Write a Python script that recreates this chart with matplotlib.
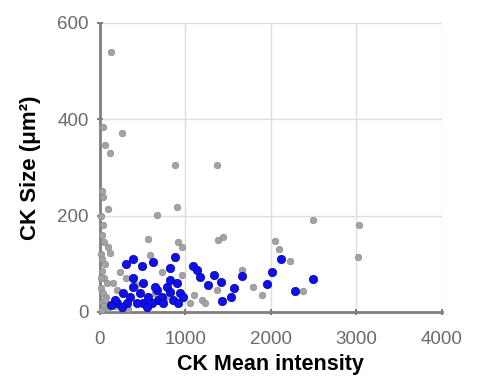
import matplotlib.pyplot as plt

plt.rcParams['font.family'] = ['Liberation Sans', 'DejaVu Sans']

# grey population
grey_x = [130, 255, 120, 60, 35, 40, 95, 20, 880, 1370, 900, 665, 565, 915, 960,
          1380, 1440, 2050, 2100, 2490, 3030, 3020, 2220, 1790, 1895, 2375, 585,
          1660, 1370, 1190, 1230, 1050, 725, 960, 235, 117, 95, 30, 50, 15, 60,
          25, 45, 80, 10, 35, 70, 20, 55, 150, 200, 300, 420, 650, 760, 1100,
          40, 15, 30, 50, 20, 65, 10, 90, 180, 330]
grey_y = [540, 372, 330, 347, 384, 239, 214, 250, 305, 305, 218, 201, 151, 145, 135,
          150, 156, 147, 131, 191, 181, 114, 106, 52, 35, 44, 118,
          87, 46, 25, 19, 19, 83, 77, 83, 122, 135, 160, 145, 120, 100,
          85, 70, 60, 50, 40, 30, 20, 10, 60, 45, 70, 55, 40, 30, 35,
          180, 200, 5, 15, 110, 25, 70, 8, 12, 6]

# blue population
blue_x = [385, 305, 490, 620, 875, 820, 385, 1090, 1130, 1170, 1265, 1330, 1415,
          1570, 1530, 1430, 1660, 2010, 1950, 2120, 2280, 2490,
          195, 270, 350, 470, 505, 565, 665, 680, 780, 820, 900, 935, 970, 725,
          610, 430, 315, 175, 385, 505, 740, 855, 255, 550, 645, 820, 915, 130]
blue_y = [110, 100, 95, 104, 114, 91, 71, 95, 87, 73, 56, 77, 62,
          50, 31, 23, 75, 83, 58, 110, 44, 69,
          19, 39, 31, 39, 19, 31, 46, 25, 52, 66, 60, 39, 31, 31,
          19, 19, 19, 25, 52, 60, 19, 25, 10, 10, 52, 42, 19, 15]

fig = plt.figure(figsize=(4.85, 3.87), dpi=100)
ax = fig.add_axes([0.206, 0.194, 0.705, 0.747])

ax.scatter(grey_x, grey_y, s=22, color='#a3a3a3', edgecolors='#8c8c8c',
           linewidths=0.5, zorder=3, clip_on=False)
ax.scatter(blue_x, blue_y, s=36, color='#1010ee', edgecolors='#0000a0',
           linewidths=0.5, zorder=4, clip_on=False)

ax.set_xlim(0, 4000)
ax.set_ylim(0, 600)
ax.set_xticks([0, 1000, 2000, 3000, 4000])
ax.set_yticks([0, 200, 400, 600])
ax.grid(True, color='#dedede', linewidth=1)
ax.set_axisbelow(True)

for s in ['top', 'right']:
    ax.spines[s].set_visible(False)
for s in ['left', 'bottom']:
    ax.spines[s].set_color('#7f7f7f')
    ax.spines[s].set_linewidth(2)

ax.tick_params(direction='inout', length=4, width=1.5, color='#7f7f7f',
               labelsize=13.5, labelcolor='#6b6b6b')
ax.tick_params(axis='x', pad=12)
ax.tick_params(axis='y', pad=6)

ax.set_xlabel('CK Mean intensity', fontsize=15.5, fontweight='bold', labelpad=4)
ax.set_ylabel('CK Size (μm²)', fontsize=16, fontweight='bold', labelpad=12)

fig.savefig('out.png', dpi=100)
